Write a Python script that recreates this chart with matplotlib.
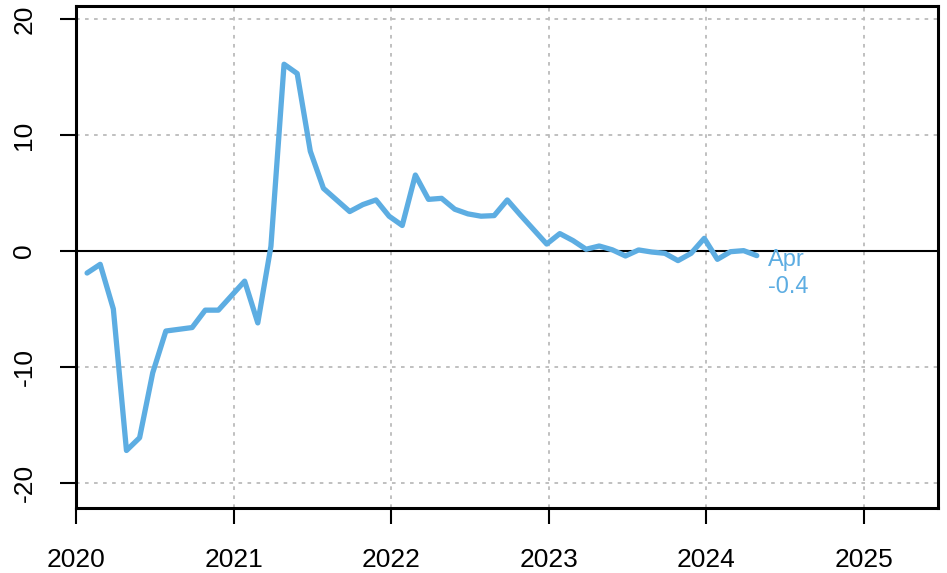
import numpy as np
import matplotlib
matplotlib.use('Agg')
import matplotlib.pyplot as plt

plt.rcParams['font.family'] = ['Liberation Sans', 'DejaVu Sans']

# monthly values, Jan 2020 .. Apr 2024
years = [2020] * 12 + [2021] * 12 + [2022] * 12 + [2023] * 12 + [2024] * 4
months = list(range(1, 13)) * 4 + [1, 2, 3, 4]
values = [
    -1.9, -1.15, -5.0, -17.2, -16.1, -10.5, -6.9, -6.75, -6.6, -5.1, -5.1, -3.85,
    -2.6, -6.2, 0.4, 16.1, 15.3, 8.6, 5.4, 4.4, 3.4, 4.0, 4.4, 3.0,
    2.2, 6.55, 4.45, 4.54, 3.6, 3.2, 3.0, 3.05, 4.4, 3.1, 1.85, 0.6,
    1.5, 0.9, 0.15, 0.43, 0.1, -0.43, 0.09, -0.09, -0.2, -0.83, -0.2, 1.09,
    -0.72, -0.06, 0.03, -0.4,
]
xticks = [2020, 2021, 2022, 2023, 2024, 2025]
yticks = [-20, -10, 0, 10, 20]
last_label = 'Apr'

color = '#5DADE2'

# decimal year for each month (points sit late in the month)
x = np.array(years) + (np.array(months) - 1) / 12 + 0.07
y = np.array(values)

fig = plt.figure(figsize=(9.47, 5.73), dpi=100)
ax = fig.add_axes([0.0803, 0.1134, 0.9102, 0.8761])

for t in xticks:
    ax.axvline(t, color='#bbbbbb', lw=1.3, ls=(0, (2, 3)), zorder=1)
for t in yticks:
    ax.axhline(t, color='#bbbbbb', lw=1.3, ls=(0, (2, 3)), zorder=1)
ax.axhline(0, color='black', lw=1.5, zorder=2)

ax.plot(x, y, color=color, lw=3.8, solid_capstyle='round', solid_joinstyle='round', zorder=3)

# end label: month and last value
ax.annotate(f'{last_label}\n{y[-1]:.1f}', xy=(x[-1], y[-1]), xytext=(8, 5),
            textcoords='offset points', color=color, fontsize=17,
            ha='left', va='top', linespacing=1.3)

ax.set_xlim(2020.0, 2025.47)
ax.set_ylim(-22.16, 21.12)
ax.set_xticks(xticks)
ax.set_yticks(yticks)
ax.set_yticklabels([str(t) for t in yticks], rotation=90, va='center')

ax.tick_params(axis='both', direction='out', length=11.5, width=1.5, labelsize=19, colors='black')
ax.tick_params(axis='x', pad=17)
ax.tick_params(axis='y', pad=17)

for s in ax.spines.values():
    s.set_linewidth(2.2)

fig.savefig('out.png', dpi=100)
